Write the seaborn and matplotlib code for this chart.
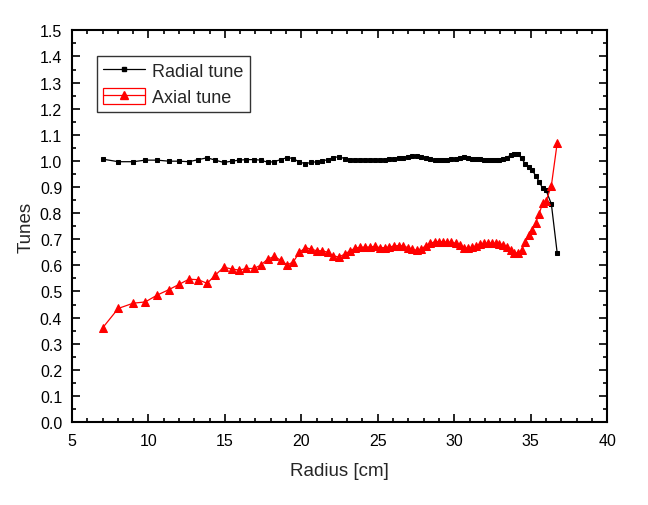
import numpy as np
import matplotlib
matplotlib.use("Agg")
import matplotlib.pyplot as plt
import seaborn as sns
from matplotlib.lines import Line2D
from matplotlib.patches import Patch
from matplotlib.ticker import MultipleLocator, FormatStrFormatter

# Radius [cm] sampled points (shared by both tunes)
radius = [7.0, 8.03, 9.0, 9.8, 10.57, 11.34, 12.0, 12.65, 13.27, 13.84,
          14.38, 14.93, 15.45, 15.94, 16.4, 16.9, 17.35, 17.8, 18.22, 18.65,
          19.08, 19.48, 19.88, 20.27, 20.64, 21.01, 21.38, 21.73, 22.1, 22.46,
          22.83, 23.18, 23.51, 23.84, 24.16, 24.49, 24.81, 25.12, 25.44, 25.75,
          26.06, 26.37, 26.67, 26.97, 27.27, 27.56, 27.85, 28.14, 28.43, 28.71,
          28.99, 29.27, 29.55, 29.82, 30.09, 30.36, 30.63, 30.9, 31.16, 31.42,
          31.68, 31.94, 32.2, 32.45, 32.7, 32.95, 33.2, 33.44, 33.68, 33.92,
          34.16, 34.4, 34.63, 34.86, 35.09, 35.32, 35.55, 35.78, 36.0, 36.35,
          36.73]

radial_tune = [1.007, 0.997, 0.997, 1.003, 1.003, 0.999, 0.999, 0.997, 1.005, 1.012,
               1.003, 0.994, 0.999, 1.003, 1.005, 1.005, 1.003, 0.995, 0.997, 1.005,
               1.013, 1.009, 0.995, 0.990, 0.994, 0.997, 1.000, 1.005, 1.013, 1.016,
               1.009, 1.005, 1.003, 1.003, 1.003, 1.003, 1.004, 1.005, 1.005, 1.007,
               1.009, 1.011, 1.013, 1.015, 1.017, 1.019, 1.016, 1.010, 1.006, 1.004,
               1.003, 1.003, 1.005, 1.007, 1.008, 1.011, 1.014, 1.012, 1.009, 1.007,
               1.006, 1.005, 1.004, 1.003, 1.004, 1.005, 1.008, 1.013, 1.022, 1.028,
               1.026, 1.010, 0.990, 0.976, 0.965, 0.944, 0.921, 0.895, 0.888, 0.835,
               0.648]

axial_tune = [0.360, 0.435, 0.455, 0.460, 0.486, 0.507, 0.527, 0.547, 0.545, 0.531,
              0.563, 0.593, 0.586, 0.582, 0.588, 0.588, 0.601, 0.624, 0.634, 0.620,
              0.601, 0.614, 0.650, 0.668, 0.662, 0.656, 0.656, 0.650, 0.636, 0.632,
              0.643, 0.655, 0.666, 0.669, 0.670, 0.670, 0.673, 0.668, 0.668, 0.670,
              0.674, 0.676, 0.674, 0.668, 0.662, 0.657, 0.662, 0.676, 0.684, 0.690,
              0.691, 0.690, 0.689, 0.688, 0.685, 0.677, 0.668, 0.665, 0.669, 0.674,
              0.680, 0.684, 0.685, 0.685, 0.684, 0.683, 0.678, 0.672, 0.660, 0.647,
              0.648, 0.658, 0.690, 0.718, 0.735, 0.762, 0.797, 0.838, 0.845, 0.905,
              1.068]

sns.set_style("ticks")
plt.rcParams['font.family'] = ['Liberation Sans', 'DejaVu Sans']

fig = plt.figure(figsize=(6.48, 5.06), dpi=100)
ax = fig.add_axes([0.111, 0.164, 0.826, 0.774])

sns.lineplot(x=radius, y=radial_tune, ax=ax, color='black', linewidth=0.9,
             marker='s', markersize=2.6, markeredgecolor='black', sort=False)
sns.lineplot(x=radius, y=axial_tune, ax=ax, color='red', linewidth=0.9,
             marker='^', markersize=5.5, markeredgecolor='red', sort=False)

ax.set_xlim(5, 40)
ax.set_ylim(0, 1.5)
ax.xaxis.set_major_locator(MultipleLocator(5))
ax.xaxis.set_minor_locator(MultipleLocator(1))
ax.yaxis.set_major_locator(MultipleLocator(0.1))
ax.yaxis.set_minor_locator(MultipleLocator(0.05))
ax.yaxis.set_major_formatter(FormatStrFormatter('%.1f'))

ax.tick_params(which='both', direction='in', top=True, right=True,
               labelsize=11.5, width=1.2, colors='black')
ax.tick_params(which='major', length=6)
ax.tick_params(which='minor', length=3)
ax.tick_params(axis='x', which='major', pad=8)
ax.tick_params(axis='y', which='major', pad=7)
for sp in ax.spines.values():
    sp.set_linewidth(1.5)
    sp.set_color('black')

ax.set_xlabel('Radius [cm]', fontsize=13.5, labelpad=10)
ax.set_ylabel('Tunes', fontsize=13.5, labelpad=4)

# legend styled like Origin's
h_rad = Line2D([], [], color='black', linewidth=0.9, marker='s', markersize=2.6)
h_ax = (Patch(facecolor='none', edgecolor='red', linewidth=0.9),
        Line2D([], [], color='red', linewidth=0.9, marker='^', markersize=5.5))
leg = ax.legend([h_rad, h_ax], ['Radial tune', 'Axial tune'],
                loc='upper left', bbox_to_anchor=(0.047, 0.935), borderaxespad=0,
                fontsize=13, frameon=True, fancybox=False, edgecolor='black',
                handlelength=2.3, handleheight=1.0, handletextpad=0.4,
                borderpad=0.35, labelspacing=0.4)
leg.get_frame().set_linewidth(1.0)

fig.savefig('out.png', dpi=100)
